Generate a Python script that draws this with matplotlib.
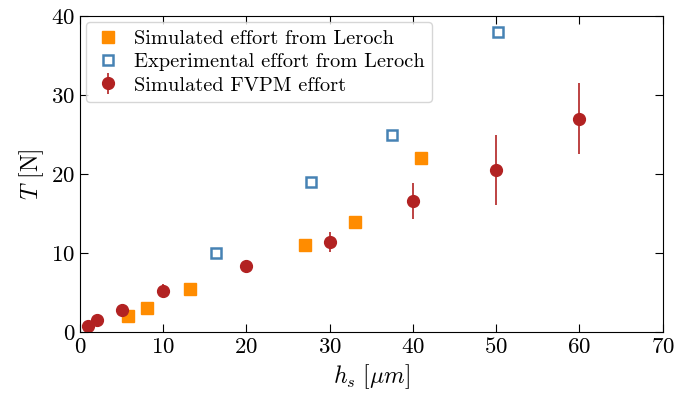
import matplotlib
matplotlib.use("Agg")
import matplotlib.pyplot as plt

plt.rcParams['font.family'] = 'serif'
plt.rcParams['font.serif'] = ['cmr10']
plt.rcParams['mathtext.fontset'] = 'cm'
plt.rcParams['axes.formatter.use_mathtext'] = True
plt.rcParams['font.size'] = 16.5

# Simulado Leroch
lerochSimX = [5.8, 8.0, 13.2, 27.0, 33.0, 41.0]
lerochSimY = [2.0, 3.0, 5.5, 11.0, 14.0, 22.0]

# Experimental Leroch
lerochExpX = [16.3, 27.7, 37.5, 50.2]
lerochExpY = [10.0, 19.0, 25.0, 38.0]

# FVPM simulado
fvpmX = [1, 2, 5, 10, 20, 30, 40, 50, 60]
fvpmY = [0.8, 1.6, 2.8, 5.2, 8.4, 11.4, 16.6, 20.5, 27.0]
fvpmErr = [0.1, 0.1, 0.2, 0.9, 0.3, 1.3, 2.3, 4.4, 4.5]

fig = plt.figure(figsize=(6.92, 3.94), dpi=100)
ax = fig.add_axes([0.1156, 0.157, 0.842, 0.802])

ax.plot(lerochSimX, lerochSimY, 's', color='darkorange', markersize=8.5,
        label='Simulated effort from Leroch')
ax.plot(lerochExpX, lerochExpY, 's', markerfacecolor='white', markeredgecolor='steelblue',
        markeredgewidth=1.8, markersize=6.5, label='Experimental effort from Leroch')
ax.errorbar(fvpmX, fvpmY, yerr=fvpmErr, fmt='o', color='firebrick', markersize=8.5,
            elinewidth=1.2, label='Simulated FVPM effort')

ax.set_xlim(0, 70)
ax.set_ylim(0, 40)
ax.set_xticks(range(0, 71, 10))
ax.set_yticks(range(0, 41, 10))
ax.tick_params(direction='in', top=True, right=True, length=6, labelsize=16.5)
ax.set_xlabel(r'$h_s\ [\mu m]$', fontsize=17)
ax.set_ylabel(r'$T$ [N]', fontsize=17)
ax.legend(loc='upper left', fontsize=14.7, handlelength=1.4, handletextpad=0.6,
          borderaxespad=0.3, labelspacing=0.25, borderpad=0.35)

fig.savefig('out.png', dpi=100)
